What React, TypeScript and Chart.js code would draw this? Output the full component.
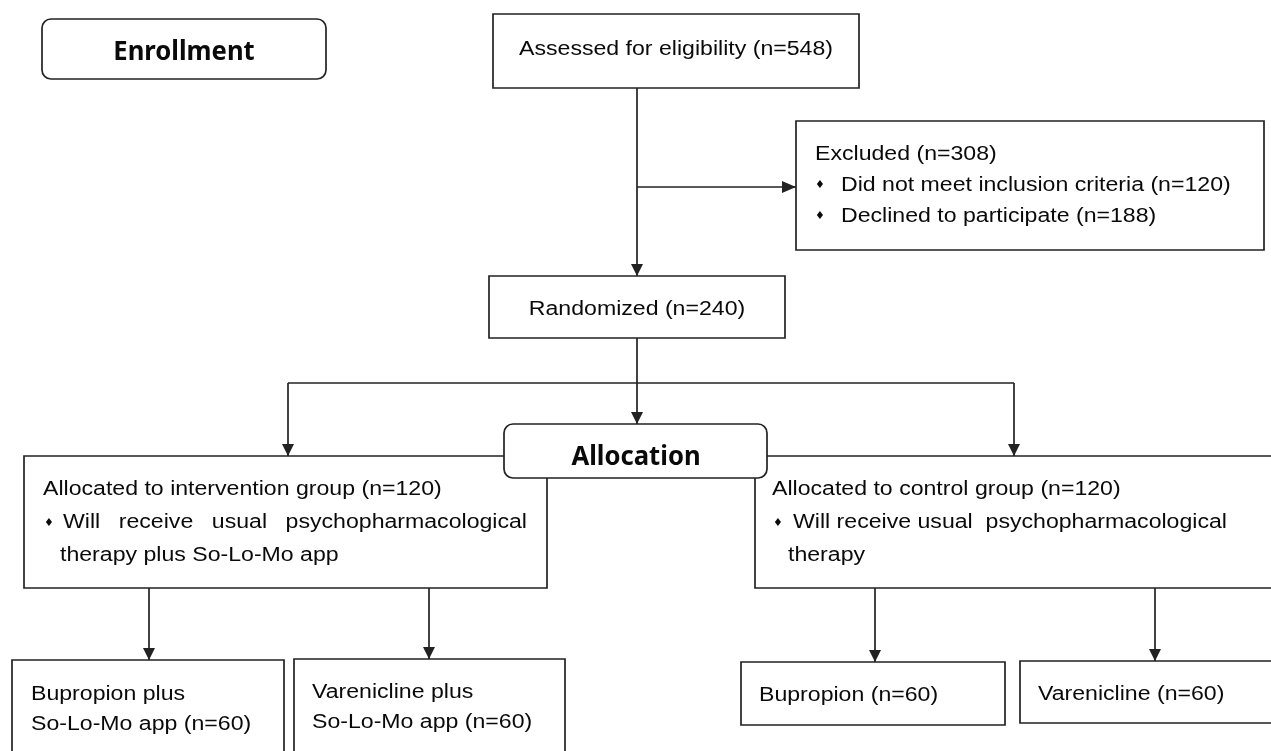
import React, { useEffect, useRef } from "react";
import { Chart, registerables } from "chart.js";

Chart.register(...registerables);

// ---------- Flowchart nodes (boxes) ----------
const nodeNames = [
  "Enrollment",
  "Assessed",
  "Excluded",
  "Randomized",
  "Intervention",
  "Control",
  "BupropionPlus",
  "VareniclinePlus",
  "Bupropion",
  "Varenicline",
  "Allocation",
];
const nodeLeft = [42, 493, 796, 489, 24, 755, 12, 294, 741, 1020, 504];
const nodeRight = [326, 859, 1264, 785, 547, 1300, 284, 565, 1005, 1300, 767];
const nodeTop = [19, 14, 121, 276, 456, 456, 660, 659, 662, 661, 424];
const nodeBottom = [79, 88, 250, 338, 588, 588, 780, 780, 725, 723, 478];
const nodeRounded = [true, false, false, false, false, false, false, false, false, false, true];

// ---------- Connectors ----------
const linkX1 = [637, 637, 637, 288, 288, 1014, 149, 429, 875, 1155];
const linkY1 = [88, 187, 338, 383, 383, 383, 588, 588, 588, 588];
const linkX2 = [637, 796, 637, 1014, 288, 1014, 149, 429, 875, 1155];
const linkY2 = [276, 187, 424, 383, 456, 456, 660, 659, 662, 661];
const linkArrow = [true, true, true, false, true, true, true, true, true, true];

// ---------- Texts ----------
const textStrings = [
  "Enrollment",
  "Assessed for eligibility (n=548)",
  "Excluded (n=308)",
  "Did not meet inclusion criteria (n=120)",
  "Declined to participate (n=188)",
  "Randomized (n=240)",
  "Allocation",
  "Allocated to intervention group (n=120)",
  "Will receive usual psychopharmacological",
  "therapy plus So-Lo-Mo app",
  "Allocated to control group (n=120)",
  "Will receive usual  psychopharmacological",
  "therapy",
  "Bupropion plus",
  "So-Lo-Mo app (n=60)",
  "Varenicline plus",
  "So-Lo-Mo app (n=60)",
  "Bupropion (n=60)",
  "Varenicline (n=60)",
];
const textX = [184, 676, 815, 841, 841, 637, 636, 43, 63, 60, 772, 793, 788, 31, 31, 312, 312, 759, 1038];
const textY = [60, 55, 160, 191, 222, 315, 465, 495, 528, 561, 495, 528, 561, 700, 730, 698, 728, 701, 700];
const textAlign = ["center", "center", "left", "left", "left", "center", "center", "left", "left", "left", "left", "left", "left", "left", "left", "left", "left", "left", "left"];
const textBold = [true, false, false, false, false, false, true, false, false, false, false, false, false, false, false, false, false, false, false];
const textJustifyTo = [0, 0, 0, 0, 0, 0, 0, 0, 527, 0, 0, 0, 0, 0, 0, 0, 0, 0, 0];

// ---------- Bullets ----------
const bulletX = [820, 820, 49, 778];
const bulletY = [185, 216, 523, 523];

// ---------- Styles ----------
const LINE_COLOR = "#222222";
const LINE_WIDTH = 1.7;
const TEXT_COLOR = "#0a0a0a";
const BODY_FONT = '20px "Liberation Sans", Arial, sans-serif';
const BODY_SX = 1.155;
const BOLD_FONT = 'bold 27px "Noto Sans", "Open Sans", sans-serif';
const BOLD_SX = 0.95;
const BULLET_FONT = '11px "DejaVu Sans", sans-serif';

function roundRect(ctx: CanvasRenderingContext2D, x: number, y: number, w: number, h: number, r: number) {
  ctx.beginPath();
  ctx.moveTo(x + r, y);
  ctx.lineTo(x + w - r, y);
  ctx.arcTo(x + w, y, x + w, y + r, r);
  ctx.lineTo(x + w, y + h - r);
  ctx.arcTo(x + w, y + h, x + w - r, y + h, r);
  ctx.lineTo(x + r, y + h);
  ctx.arcTo(x, y + h, x, y + h - r, r);
  ctx.lineTo(x, y + r);
  ctx.arcTo(x, y, x + r, y, r);
  ctx.closePath();
}

const flowPlugin = {
  id: "flowchart",
  beforeDatasetsDraw(chart: any) {
    const { ctx, scales } = chart;
    const xs = scales.x;
    const ys = scales.y;
    ctx.save();
    ctx.lineWidth = LINE_WIDTH;
    ctx.strokeStyle = LINE_COLOR;
    ctx.fillStyle = "#ffffff";
    for (let i = 0; i < nodeNames.length; i++) {
      const l = xs.getPixelForValue(nodeLeft[i]);
      const r = xs.getPixelForValue(nodeRight[i]);
      const t = ys.getPixelForValue(nodeTop[i]);
      const b = ys.getPixelForValue(nodeBottom[i]);
      if (nodeRounded[i]) {
        roundRect(ctx, l, t, r - l, b - t, 9);
      } else {
        ctx.beginPath();
        ctx.rect(l, t, r - l, b - t);
      }
      ctx.fill();
      ctx.stroke();
    }
    ctx.restore();
  },
  afterDatasetsDraw(chart: any) {
    const { ctx, scales } = chart;
    const xs = scales.x;
    const ys = scales.y;
    ctx.save();
    // arrowheads
    ctx.fillStyle = LINE_COLOR;
    for (let i = 0; i < linkX1.length; i++) {
      if (!linkArrow[i]) continue;
      const x1 = xs.getPixelForValue(linkX1[i]);
      const y1 = ys.getPixelForValue(linkY1[i]);
      const x2 = xs.getPixelForValue(linkX2[i]);
      const y2 = ys.getPixelForValue(linkY2[i]);
      const ang = Math.atan2(y2 - y1, x2 - x1);
      const len = Math.abs(x2 - x1) > Math.abs(y2 - y1) ? 14 : 12;
      const half = 6;
      ctx.save();
      ctx.translate(x2, y2);
      ctx.rotate(ang);
      ctx.beginPath();
      ctx.moveTo(0, 0);
      ctx.lineTo(-len, -half);
      ctx.lineTo(-len, half);
      ctx.closePath();
      ctx.fill();
      ctx.restore();
    }
    // texts
    ctx.fillStyle = TEXT_COLOR;
    ctx.textBaseline = "alphabetic";
    ctx.textAlign = "left";
    for (let i = 0; i < textStrings.length; i++) {
      const s = textStrings[i];
      const font = textBold[i] ? BOLD_FONT : BODY_FONT;
      const sx = textBold[i] ? BOLD_SX : BODY_SX;
      ctx.font = font;
      const px = xs.getPixelForValue(textX[i]);
      const py = ys.getPixelForValue(textY[i]);
      if (textJustifyTo[i]) {
        const words = s.split(/\s+/);
        const widths = words.map((w) => ctx.measureText(w).width * sx);
        const total = widths.reduce((a, b) => a + b, 0);
        const endX = xs.getPixelForValue(textJustifyTo[i]);
        const gap = words.length > 1 ? (endX - px - total) / (words.length - 1) : 0;
        let cx = px;
        for (let k = 0; k < words.length; k++) {
          ctx.save();
          ctx.translate(cx, py);
          ctx.scale(sx, 1);
          ctx.fillText(words[k], 0, 0);
          ctx.restore();
          cx += widths[k] + gap;
        }
        continue;
      }
      const w = ctx.measureText(s).width * sx;
      const x0 = textAlign[i] === "center" ? px - w / 2 : px;
      ctx.save();
      ctx.translate(x0, py);
      ctx.scale(sx, 1);
      ctx.fillText(s, 0, 0);
      ctx.restore();
    }
    // bullets
    ctx.font = BULLET_FONT;
    ctx.textAlign = "center";
    ctx.textBaseline = "middle";
    for (let i = 0; i < bulletX.length; i++) {
      ctx.fillText("\u2666", xs.getPixelForValue(bulletX[i]), ys.getPixelForValue(bulletY[i]));
    }
    ctx.restore();
  },
};

export default function App() {
  const canvasRef = useRef<HTMLCanvasElement | null>(null);

  useEffect(() => {
    const canvas = canvasRef.current;
    if (!canvas) return;
    const datasets = linkX1.map((_, i) => ({
      label: "link" + i,
      data: [
        { x: linkX1[i], y: linkY1[i] },
        { x: linkX2[i], y: linkY2[i] },
      ],
      showLine: true,
      borderColor: LINE_COLOR,
      borderWidth: LINE_WIDTH,
      pointRadius: 0,
      pointHoverRadius: 0,
      fill: false,
      tension: 0,
    }));
    const chart = new Chart(canvas, {
      type: "scatter",
      data: { datasets },
      options: {
        animation: false,
        responsive: false,
        maintainAspectRatio: false,
        devicePixelRatio: 1,
        events: [],
        layout: { padding: 0 },
        plugins: { legend: { display: false }, tooltip: { enabled: false }, title: { display: false } },
        scales: {
          x: { type: "linear", min: 0, max: 1271, display: false },
          y: { type: "linear", min: 0, max: 751, reverse: true, display: false },
        },
      },
      plugins: [flowPlugin],
    } as any);
    return () => chart.destroy();
  }, []);

  return (
    <div style={{ position: "fixed", left: 0, top: 0, width: 1271, height: 751, background: "#ffffff" }}>
      <canvas ref={canvasRef} width={1271} height={751} style={{ width: 1271, height: 751, display: "block" }} />
    </div>
  );
}
